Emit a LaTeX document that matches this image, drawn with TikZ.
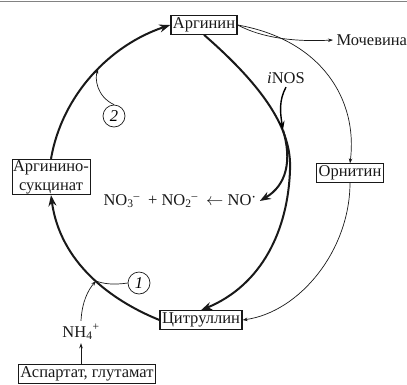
\documentclass[tikz,border=0pt]{standalone}
\usepackage{fontspec}
\setmainfont{Liberation Serif}
\usetikzlibrary{arrows.meta}
\definecolor{inkdark}{RGB}{25,25,25}
\definecolor{scangray}{RGB}{130,130,130}

\begin{document}
\begin{tikzpicture}[x=1pt,y=-1pt,
  font=\fontsize{16.5}{19}\selectfont,
  metab/.style={draw=inkdark,line width=0.8pt,inner sep=2pt,text=inkdark},
  mainmetab/.style={metab,line width=1.3pt},
  cyclepath/.style={draw=inkdark,line width=2pt},
  sidepath/.style={draw=inkdark,line width=0.7pt},
  bigtip/.style={-{Stealth[length=11pt,width=8pt]}},
  smalltip/.style={-{Stealth[length=5pt,width=3.5pt]}},
  stepnum/.style={circle,draw=inkdark,line width=0.7pt,inner sep=0pt,
    minimum size=22pt,font=\fontsize{16.5}{19}\selectfont\itshape}]
\useasboundingbox (0,0) rectangle (407,384);
\draw[scangray,line width=0.8pt] (0,1.5) -- (407,1.5);
% metabolites
\node[mainmetab] (arg) at (204,25) {Аргинин};
\node[metab] (orn) at (350,173) {Орнитин};
\node[mainmetab] (cit) at (201,320) {Цитруллин};
\node[metab,align=center,inner sep=1pt] (asuc) at (51,177) {Аргинино-\\сукцинат};
\node[metab] (asp) at (87,374) {Аспартат, глутамат};
\node[anchor=west,text=inkdark] (urea) at (333,40) {Мочевина};
\node[text=inkdark] (nh) at (81,332) {NH\textsubscript{4}\textsuperscript{+}};
\node[text=inkdark] (inos) at (286,78) {\textit{i}NOS};
\node[anchor=west,text=inkdark] (nox) at (100,201)
  {NO\textsubscript{3}\textsuperscript{--}\enspace + NO\textsubscript{2}\textsuperscript{--}\enspace$\leftarrow$ NO\raisebox{0.5ex}{$\cdot$}};
\node[stepnum] (s1) at (139,283) {1};
\node[stepnum] (s2) at (114,116) {2};
\coordinate (j1) at (96,281);
\coordinate (j2) at (98,69);
\coordinate (nos) at (283,130);
% urea cycle
\draw[cyclepath,bigtip] (cit.west) .. controls (110,300) and (60,262) .. (asuc.south);
\draw[cyclepath,bigtip] (asuc.north) .. controls (62,95) and (110,45) .. (arg.west);
\draw[cyclepath,bigtip] (arg.south) .. controls (265,88) and (292,130) .. (290,170)
  .. controls (288,230) and (262,285) .. (cit.north);
\draw[line width=1.4pt,-{Stealth[length=9pt,width=6pt]}] (inos.south)
  .. controls (279,100) and (280,112) .. (nos);
\draw[cyclepath,bigtip] (nos) .. controls (292,160) and (287,185) .. (nox.east);
% side branches
\draw[sidepath,smalltip] (arg.east) .. controls (322,40) and (358,100) .. (orn.north);
\draw[sidepath,smalltip] (arg.east) .. controls (262,38) and (295,42) .. (urea.west);
\draw[sidepath,smalltip] (orn.south) .. controls (350,250) and (300,312) .. (cit.east);
\draw[sidepath,smalltip] (nh.south |- asp.north) -- (nh.south);
\draw[sidepath,smalltip] (nh.north) .. controls (82,302) and (88,290) .. (j1);
\draw[sidepath] (s1.west) .. controls (114,285) and (104,284) .. (j1);
\draw[sidepath,smalltip] (s2.north) .. controls (96,96) and (95,78) .. (j2);
\end{tikzpicture}
\end{document}
